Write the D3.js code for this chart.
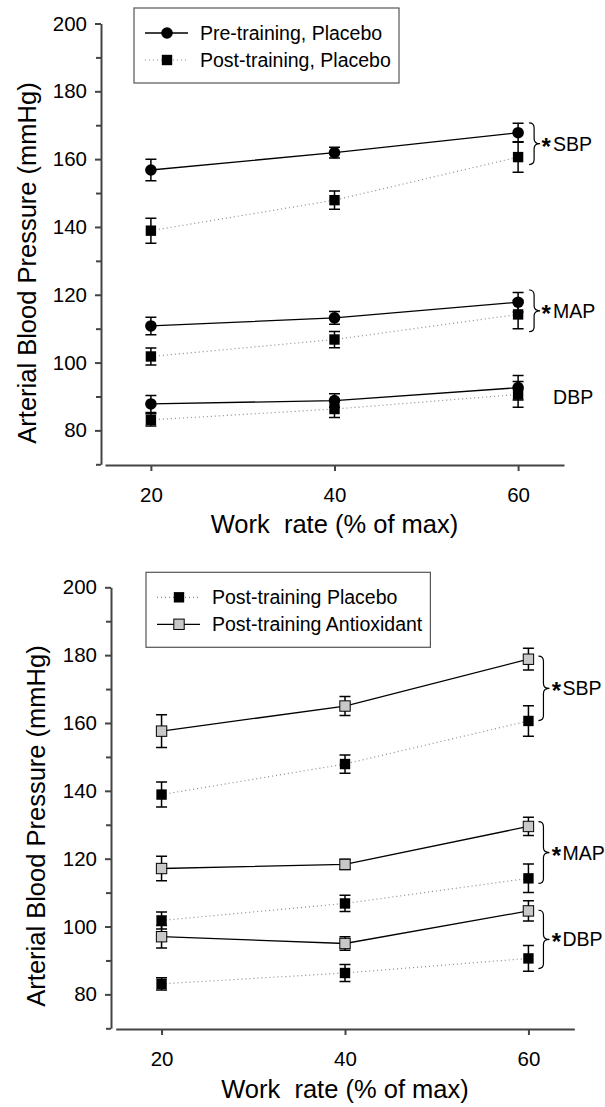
<!DOCTYPE html>
<html>
<head>
<meta charset="utf-8">
<script src="https://cdn.jsdelivr.net/npm/d3@7"></script>
<style>
  body { margin: 0; background: #fff; }
  text { font-family: "Liberation Sans", Arial, sans-serif; fill: #000; }
</style>
</head>
<body>
<svg id="chart" width="605" height="1107"></svg>
<script>
// work rate (% of max)
const workRate = [20, 40, 60];
const xTicks = [20, 40, 60];
const yTicks = [80, 100, 120, 140, 160, 180, 200];
const yMinorTicks = [70, 90, 110, 130, 150, 170, 190];

// pre-training placebo (top panel)
const preSBP = [156.8, 161.9, 167.8], preSBPErr = [3.2, 1.6, 2.8];
const preMAP = [110.8, 113.2, 117.8], preMAPErr = [2.6, 1.9, 2.9];
const preDBP = [87.8, 88.8, 92.6], preDBPErr = [2.5, 2.0, 3.6];

// post-training placebo (both panels)
const postSBP = [138.9, 147.9, 160.6], postSBPErr = [3.7, 2.7, 4.5];
const postMAP = [101.8, 106.8, 114.2], postMAPErr = [2.5, 2.4, 4.2];
const postDBP = [83.1, 86.3, 90.6], postDBPErr = [1.8, 2.5, 3.8];

// post-training antioxidant (bottom panel)
const antiSBP = [157.6, 165.0, 178.8], antiSBPErr = [4.8, 2.8, 3.2];
const antiMAP = [117.1, 118.3, 129.5], antiMAPErr = [3.6, 1.5, 2.7];
const antiDBP = [97.0, 95.0, 104.6], antiDBPErr = [3.3, 2.0, 3.0];

// legend labels
const topLegend = ['Pre-training, Placebo', 'Post-training, Placebo'];
const bottomLegend = ['Post-training Placebo', 'Post-training Antioxidant'];

// right-side annotations: label, bracket [high, low], star
const topNotes = [
  {label: 'SBP', range: [170.7, 158.4], star: true},
  {label: 'MAP', range: [121.4, 109.1], star: true},
  {label: 'DBP', range: [92.2, 87.6], star: false, noBracket: true}
];
const bottomNotes = [
  {label: 'SBP', range: [179.7, 160.7], star: true},
  {label: 'MAP', range: [130.9, 112.7], star: true},
  {label: 'DBP', range: [104.8, 87.6], star: true}
];

const styles = {
  pre: {shape: 'circle', fill: '#000', line: 'solid'},
  post: {shape: 'square', fill: '#000', line: 'dot'},
  anti: {shape: 'square', fill: '#c8c8c8', line: 'solid'}
};

const svg = d3.select('#chart');

function zip(vals, errs) {
  return workRate.map((w, i) => ({x: w, v: vals[i], e: errs[i]}));
}

function drawMarker(g, shape, fill) {
  if (shape === 'circle') {
    g.append('circle').attr('r', 5.8).attr('fill', fill);
  } else {
    g.append('rect').attr('x', -5.2).attr('y', -5.2).attr('width', 10.4).attr('height', 10.4)
      .attr('fill', fill)
      .attr('stroke', '#000').attr('stroke-width', fill === '#000' ? 0 : 1);
  }
}

function drawSeries(g, data, st, xScale, yScale) {
  const line = d3.line().x(d => xScale(d.x)).y(d => yScale(d.v));
  g.append('path')
    .attr('d', line(data))
    .attr('fill', 'none')
    .attr('stroke', st.line === 'dot' ? '#8a8a8a' : '#000')
    .attr('stroke-width', st.line === 'dot' ? 1.2 : 1.3)
    .attr('stroke-dasharray', st.line === 'dot' ? '1,3' : null);

  const pts = g.selectAll(null).data(data).join('g')
    .attr('transform', d => `translate(${xScale(d.x)},${yScale(d.v)})`);
  pts.each(function(d) {
    const p = d3.select(this);
    const top = yScale(d.v + d.e) - yScale(d.v), bot = yScale(d.v - d.e) - yScale(d.v);
    p.append('path')
      .attr('d', `M0,${top}V${bot}M-5.5,${top}H5.5M-5.5,${bot}H5.5`)
      .attr('stroke', '#000').attr('stroke-width', 1.5).attr('fill', 'none');
    drawMarker(p, st.shape, st.fill);
  });
}

function brace(x0, y0, y1) {
  const x1 = x0 + 5, x2 = x0 + 11, ym = (y0 + y1) / 2, r = 5;
  return `M${x0},${y0}Q${x1},${y0} ${x1},${y0 + r}L${x1},${ym - r}Q${x1},${ym} ${x2},${ym}` +
    `Q${x1},${ym} ${x1},${ym + r}L${x1},${y1 - r}Q${x1},${y1} ${x0},${y1}`;
}

function drawPanel(cfg) {
  const xScale = d3.scaleLinear().domain([15, 65]).range([cfg.x0, cfg.x1]);
  const yScale = d3.scaleLinear().domain([70, 200]).range([cfg.yb, cfg.yt]);
  const g = svg.append('g');

  // y axis, major + minor ticks
  g.append('g').attr('transform', `translate(${cfg.ax},0)`)
    .call(d3.axisLeft(yScale).tickValues(yTicks).tickSize(6).tickPadding(8).tickSizeOuter(0));
  g.append('g').attr('transform', `translate(${cfg.ax},0)`)
    .call(d3.axisLeft(yScale).tickValues(yMinorTicks).tickSize(5).tickFormat('').tickSizeOuter(0))
    .select('.domain').remove();
  // x axis
  g.append('g').attr('transform', `translate(0,${cfg.ay})`)
    .call(d3.axisBottom(xScale).tickValues(xTicks).tickSize(6).tickPadding(16).tickSizeOuter(0));

  g.selectAll('.domain, .tick line').attr('stroke', '#444').attr('stroke-width', 2);
  g.selectAll('.tick text').attr('font-size', 20.5).attr('fill', '#000');

  // axis titles
  g.append('text')
    .attr('x', xScale(40)).attr('y', cfg.xTitleY)
    .attr('text-anchor', 'middle').attr('font-size', 25.5)
    .attr('xml:space', 'preserve')
    .text('Work  rate (% of max)');
  g.append('text')
    .attr('transform', `translate(${cfg.yTitleX},${cfg.yTitleMid}) rotate(-90)`)
    .attr('text-anchor', 'middle').attr('font-size', 25.5)
    .text('Arterial Blood Pressure (mmHg)');

  // series
  cfg.series.forEach(s => drawSeries(g, s.data, styles[s.style], xScale, yScale));

  // annotations
  const x60 = xScale(60);
  cfg.notes.forEach(n => {
    const y0 = yScale(n.range[0]), y1 = yScale(n.range[1]), ym = (y0 + y1) / 2;
    if (!n.noBracket) {
      g.append('path').attr('d', brace(x60 + cfg.braceOff, y0, y1))
        .attr('fill', 'none').attr('stroke', '#000').attr('stroke-width', 1.2);
    }
    if (n.star) {
      g.append('text').attr('x', x60 + cfg.starOff).attr('y', ym + 11)
        .attr('text-anchor', 'middle').attr('font-size', 24).attr('font-weight', 'bold')
        .text('*');
    }
    g.append('text').attr('x', x60 + cfg.labelOff).attr('y', ym + 7)
      .attr('font-size', 19.5).text(n.label);
  });

  // legend
  const lg = g.append('g');
  lg.append('rect')
    .attr('x', cfg.legend.x).attr('y', cfg.legend.y)
    .attr('width', cfg.legend.w).attr('height', cfg.legend.h)
    .attr('fill', '#fff').attr('stroke', '#555').attr('stroke-width', 1.2);
  const rows = lg.selectAll(null).data(cfg.legend.items).join('g')
    .attr('transform', (d, i) => `translate(${cfg.legend.x + 11},${cfg.legend.y + 25 + i * 27})`);
  rows.each(function(d) {
    const r = d3.select(this), st = styles[d.style];
    r.append('line').attr('x1', 0).attr('x2', 43)
      .attr('stroke', st.line === 'dot' ? '#8a8a8a' : '#000')
      .attr('stroke-width', st.line === 'dot' ? 1.2 : 1.3)
      .attr('stroke-dasharray', st.line === 'dot' ? '1,3' : null);
    const m = r.append('g').attr('transform', 'translate(22,0)');
    drawMarker(m, st.shape, st.fill);
    r.append('text').attr('x', 55).attr('y', 7).attr('font-size', 19.5).text(d.label);
  });
}

drawPanel({
  x0: 105, x1: 564, yb: 464.3, yt: 23.5, ax: 101, ay: 465,
  xTitleY: 533, yTitleX: 36, yTitleMid: 263,
  braceOff: 11, starOff: 28, labelOff: 35,
  series: [
    {data: zip(postSBP, postSBPErr), style: 'post'},
    {data: zip(postMAP, postMAPErr), style: 'post'},
    {data: zip(postDBP, postDBPErr), style: 'post'},
    {data: zip(preSBP, preSBPErr), style: 'pre'},
    {data: zip(preMAP, preMAPErr), style: 'pre'},
    {data: zip(preDBP, preDBPErr), style: 'pre'}
  ],
  notes: topNotes,
  legend: {x: 134, y: 8, w: 265, h: 75,
    items: [{label: topLegend[0], style: 'pre'}, {label: topLegend[1], style: 'post'}]}
});

drawPanel({
  x0: 115.7, x1: 574.3, yb: 1028.3, yt: 587.3, ax: 111, ay: 1029,
  xTitleY: 1098, yTitleX: 45, yTitleMid: 826,
  braceOff: 10, starOff: 28, labelOff: 34,
  series: [
    {data: zip(postSBP, postSBPErr), style: 'post'},
    {data: zip(postMAP, postMAPErr), style: 'post'},
    {data: zip(postDBP, postDBPErr), style: 'post'},
    {data: zip(antiSBP, antiSBPErr), style: 'anti'},
    {data: zip(antiMAP, antiMAPErr), style: 'anti'},
    {data: zip(antiDBP, antiDBPErr), style: 'anti'}
  ],
  notes: bottomNotes,
  legend: {x: 146, y: 572.3, w: 284.4, h: 75,
    items: [{label: bottomLegend[0], style: 'post'}, {label: bottomLegend[1], style: 'anti'}]}
});
</script>
</body>
</html>
